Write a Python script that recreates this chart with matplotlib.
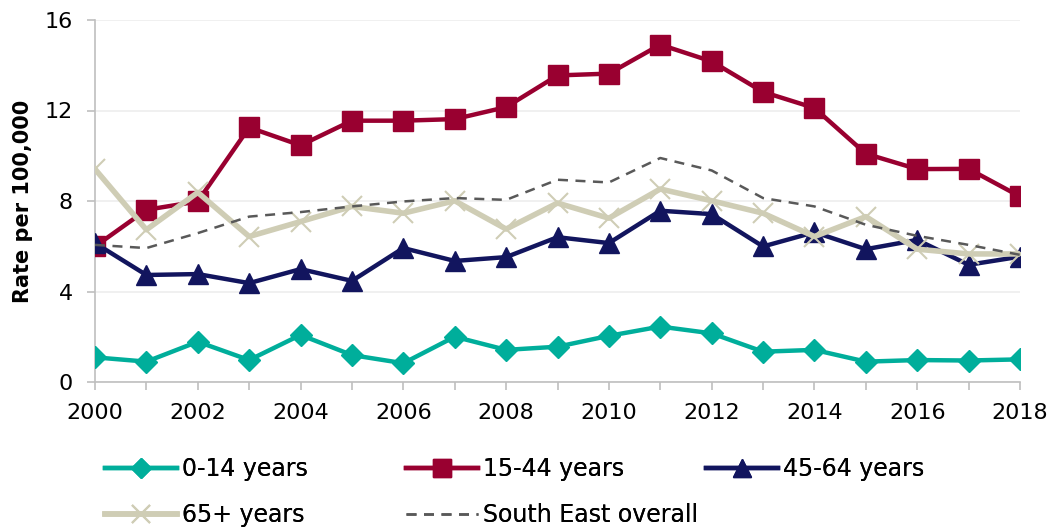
import numpy as np
import matplotlib.pyplot as plt
import matplotlib

matplotlib.rcParams['font.family'] = ['DejaVu Sans']

years = np.arange(2000, 2019)
age_0_14 = [1.09, 0.9, 1.78, 0.97, 2.08, 1.19, 0.83, 2.0, 1.42, 1.56,
            2.04, 2.45, 2.15, 1.34, 1.42, 0.9, 0.97, 0.95, 1.0]
age_15_44 = [5.99, 7.61, 7.98, 11.25, 10.46, 11.55, 11.55, 11.62, 12.15, 13.55,
             13.63, 14.91, 14.17, 12.82, 12.11, 10.09, 9.41, 9.42, 8.2]
age_45_64 = [6.14, 4.73, 4.77, 4.37, 4.99, 4.47, 5.92, 5.35, 5.52, 6.4,
             6.14, 7.57, 7.42, 5.99, 6.62, 5.87, 6.28, 5.18, 5.54]
age_65 = [9.41, 6.73, 8.38, 6.43, 7.09, 7.76, 7.46, 8.01, 6.76, 7.91,
          7.24, 8.53, 8.01, 7.46, 6.43, 7.31, 5.87, 5.66, 5.66]
south_east = [6.06, 5.92, 6.58, 7.31, 7.51, 7.76, 7.98, 8.13, 8.05, 8.94,
              8.82, 9.9, 9.35, 8.13, 7.76, 6.95, 6.46, 6.06, 5.62]

W, H = 1051, 532
fig = plt.figure(figsize=(W/100, H/100), dpi=100)
ax = fig.add_axes([95/W, 1 - 382/H, (1020-95)/W, (382-20)/H])

l1, = ax.plot(years, age_0_14, color='#00AE9B', lw=3.2, marker='D', ms=11, label='0-14 years', zorder=3)
l2, = ax.plot(years, age_15_44, color='#990030', lw=3.2, marker='s', ms=14, label='15-44 years', zorder=3)
l3, = ax.plot(years, age_45_64, color='#12155E', lw=3.2, marker='^', ms=14, label='45-64 years', zorder=3)
l4, = ax.plot(years, age_65, color='#CFCDB5', lw=4, marker='x', ms=14, mew=1.5, label='65+ years', zorder=3)
l5, = ax.plot(years, south_east, color='#595959', lw=1.8, ls=(0, (4, 3)), label='South East overall', zorder=4)

ax.set_xlim(2000, 2018)
ax.set_ylim(0, 16)
ax.set_yticks([0, 4, 8, 12, 16])
ax.set_xticks(np.arange(2000, 2019, 2))
ax.set_xticks(years, minor=True)
ax.grid(axis='y', color='#EDEDED', lw=1.2, zorder=0)
for s in ['top', 'right']:
    ax.spines[s].set_visible(False)
for s in ['left', 'bottom']:
    ax.spines[s].set_color('#BFBFBF')
    ax.spines[s].set_linewidth(1.2)
ax.tick_params(axis='both', which='both', color='#BFBFBF', width=1.2, length=6, labelsize=16)
ax.tick_params(axis='x', pad=9)
ax.tick_params(axis='y', pad=10)
ax.set_ylabel('Rate per 100,000', fontweight='bold', fontsize=15, labelpad=8)

# legend: three columns placed by hand so they line up like the original
columns = [([l1, l4], 105), ([l2, l5], 406), ([l3], 706)]
for hs, x0 in columns:
    leg = fig.legend(handles=hs, labels=[h.get_label() for h in hs], loc='upper left',
                     bbox_to_anchor=(x0/W, 1 - 457/H), frameon=False, fontsize=17,
                     handlelength=3.05, handletextpad=0.2, labelspacing=0.95,
                     borderpad=0, borderaxespad=0, markerscale=0.9)
    fig.add_artist(leg)

fig.savefig('out.png', dpi=100)
